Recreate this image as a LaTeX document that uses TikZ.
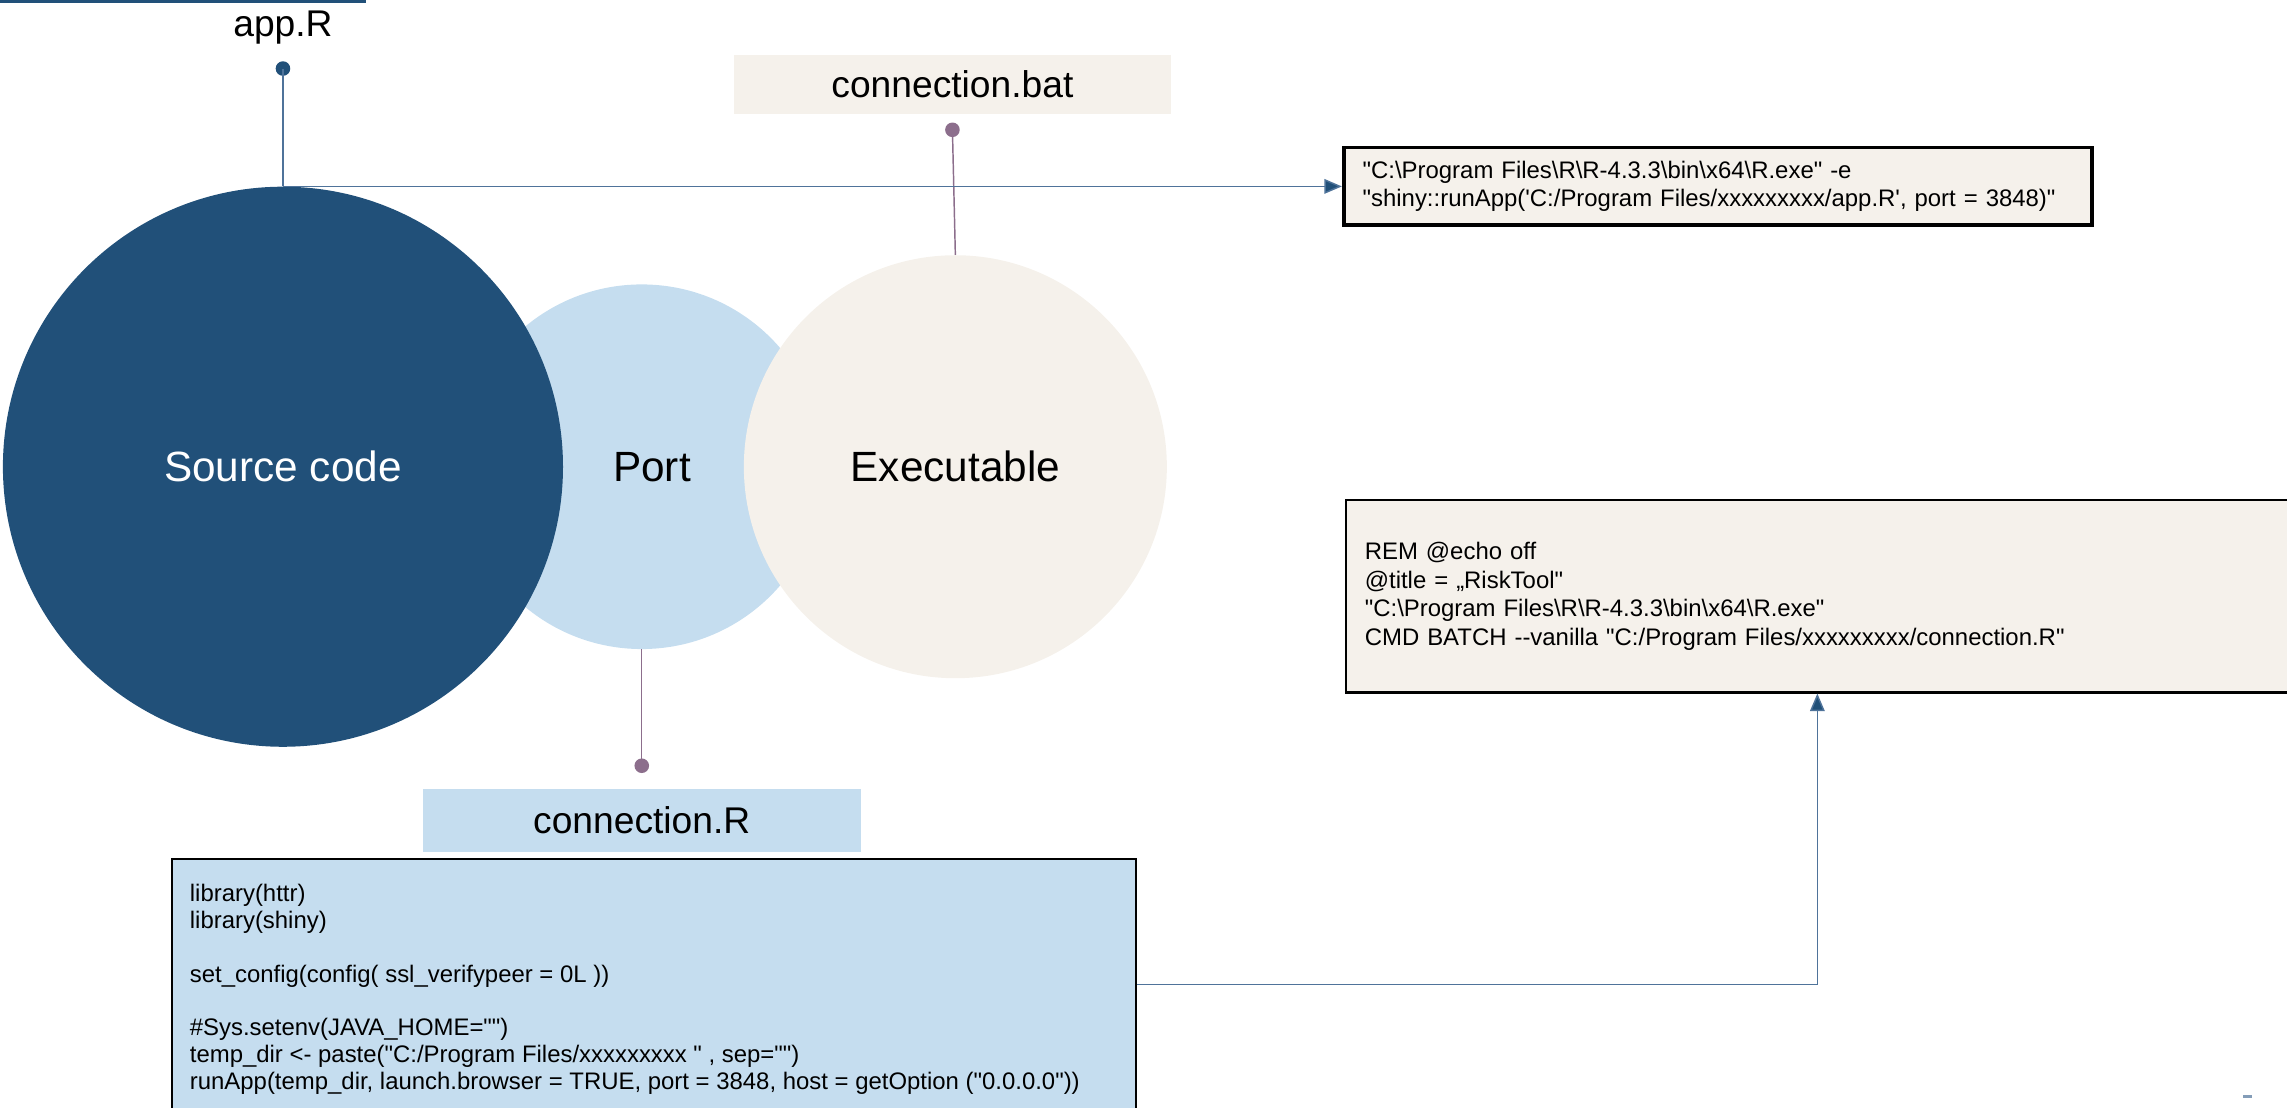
\documentclass[tikz,border=0pt]{standalone}
\usepackage{fontspec}
\setmainfont{Liberation Sans}[Ligatures=TeXOff]
\usetikzlibrary{arrows.meta}
\definecolor{navy}{HTML}{215079}
\definecolor{sky}{HTML}{C5DDEF}
\definecolor{cream}{HTML}{F5F1EB}
\definecolor{plum}{HTML}{8C6E8C}
\definecolor{wire}{HTML}{4F739A}
\newcommand{\bs}{\textbackslash}

\begin{document}
\begin{tikzpicture}[x=1pt,y=-1pt,
  bubble/.style={circle,inner sep=0pt,font=\fontsize{29}{34}\selectfont},
  tag/.style={rectangle,inner sep=0pt,font=\fontsize{25.5}{30}\selectfont},
  pin/.style={circle,fill=#1,inner sep=0pt,minimum size=10pt},
  stem/.style={draw=#1,line width=1pt},
  codebox/.style={rectangle,draw=black,anchor=north west,inner ysep=0pt,inner xsep=13pt,align=left,
    font=\fontsize{16.4}{19.5}\selectfont},
  flow/.style={draw=wire,line width=1pt,-{Triangle[length=12pt,width=10pt,fill=navy]}}]
\useasboundingbox (0,0) rectangle (1568,759);

% header rule
\fill[navy] (0,0) rectangle (251,1.8);

% three overlapping circles
\node[bubble,fill=sky,minimum size=250pt] (port) at (440,320) {};
\node[bubble,fill=navy,minimum size=384pt,text=white] (src) at (194,320) {Source code};
\node[bubble,fill=cream,minimum size=290pt] (exe) at (655,320) {Executable};
\node[font=\fontsize{29}{34}\selectfont] (portlbl) at (447,320) {Port};

% file labels
\node[tag] (appr) at (194,19) {app.R};
\node[tag,fill=cream,minimum width=300pt,minimum height=40pt] (bat) at (653,58) {connection.bat};
\node[tag,fill=sky,minimum width=300pt,minimum height=43pt] (conr) at (440,562.5) {connection.R};

% pins linking labels to circles
\node[pin=navy] (pinA) at (194,47) {};
\node[pin=plum] (pinB) at (653,89) {};
\node[pin=plum] (pinC) at (440,525) {};
\draw[stem=wire] (pinA.center) -- (src.north);
\draw[stem=plum] (pinB.center) -- (exe.north);
\draw[stem=plum] (pinC.center) -- (port.south);

% code boxes
\node[codebox,fill=cream,line width=2.5pt,minimum width=513pt,minimum height=53pt,text width=487pt] (cmd) at (920,100)
  {"C:\bs Program Files\bs R\bs R-4.3.3\bs bin\bs x64\bs R.exe" -e\\
   "shiny::runApp('C:/Program Files/xxxxxxxxx/app.R', port = 3848)"};
\node[codebox,fill=cream,line width=1.5pt,minimum width=660pt,minimum height=132pt,text width=634pt] (batbody) at (922,342)
  {REM @echo off\\
   @title = „RiskTool"\\
   "C:\bs Program Files\bs R\bs R-4.3.3\bs bin\bs x64\bs R.exe"\\
   CMD BATCH --vanilla "C:/Program Files/xxxxxxxxx/connection.R"};
\node[rectangle,draw=black,fill=sky,line width=1.5pt,anchor=north west,minimum width=661pt,minimum height=190pt] (code) at (117,588) {};
\node[anchor=north west,align=left,inner sep=0pt,font=\fontsize{16.4}{18.4}\selectfont] (codetext) at (130,606)
  {library(httr)\\
   library(shiny)\\
   \mbox{}\\
   set\_config(config( ssl\_verifypeer = 0L ))\\
   \mbox{}\\
   \#Sys.setenv(JAVA\_HOME="")\\
   temp\_dir <- paste("C:/Program Files/xxxxxxxxx " , sep="")\\
   runApp(temp\_dir, launch.browser = TRUE, port = 3848, host = getOption ("0.0.0.0"))};

% connectors
\coordinate (bend) at (1246,675);
\draw[flow] (src.north) -- (src.north -| cmd.west);
\draw[flow] (bend -| code.east) -- (bend) -- (bend |- batbody.south);

% page mark
\fill[wire!70] (1538,751) rectangle (1544,752.5);
\end{tikzpicture}
\end{document}
